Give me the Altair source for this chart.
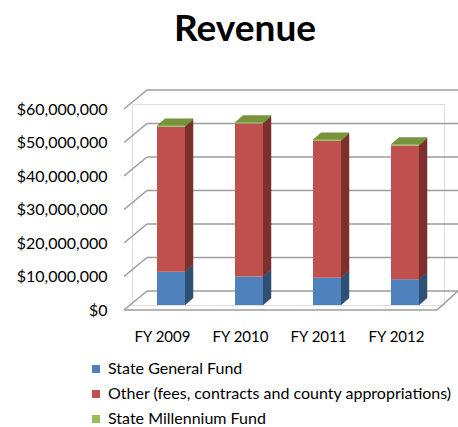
import altair as alt
import pandas as pd

# ---- data ----
years = ["FY 2009", "FY 2010", "FY 2011", "FY 2012"]
series = ["State General Fund",
          "Other (fees, contracts and county appropriations)",
          "State Millennium Fund"]
state_general = [9.9e6, 8.5e6, 8.1e6, 7.7e6]
other = [43.3e6, 45.7e6, 40.9e6, 39.9e6]
millennium = [0.3e6, 0.25e6, 0.3e6, 0.3e6]
tick_values = [0, 10e6, 20e6, 30e6, 40e6, 50e6, 60e6]

# ---- styling ----
front_colors = ["#4F81BD", "#C0504D", "#9BBB59"]
side_colors = ["#2F5075", "#7B302E", "#5E7530"]
top_color = "#77933C"
grid_color = "#9d9d9d"
FONT = "Lato"

W, H = 312, 201
YMAX = 60e6
HW = 14 / 78.0          # half bar width in band units
DX = 8 / 78.0           # 3D depth in x (band units)
DY = 7 / H * YMAX       # 3D depth in y (value units)

# ---- build tables ----
seg_rows, side_rows, top_rows = [], [], []
for i, yr in enumerate(years):
    vals = [state_general[i], other[i], millennium[i]]
    c = i + 0.5
    xl, xr = c - HW, c + HW
    start = 0.0
    for s, v, col, dk in zip(series, vals, front_colors, side_colors):
        end = start + v
        seg_rows.append(dict(year=yr, series=s, x0=xl, x1=xr, start=start, end=end))
        sid = f"{yr}-{s}"
        side_rows.append(dict(sid=sid, x=xr, lo=start, hi=end, dark=dk))
        side_rows.append(dict(sid=sid, x=xr + DX, lo=start + DY, hi=end + DY, dark=dk))
        start = end
    top = start
    for x, lo, hi in [(xl, top, top), (xl + DX, top, top + DY),
                      (xr, top, top + DY), (xr + DX, top + DY, top + DY)]:
        top_rows.append(dict(bar=yr, x=x, lo=lo, hi=hi))

segs = pd.DataFrame(seg_rows)
sides = pd.DataFrame(side_rows)
tops = pd.DataFrame(top_rows)
ticks = pd.DataFrame({"v": tick_values})

xscale = alt.Scale(domain=[0, 4], nice=False, zero=False)
yscale = alt.Scale(domain=[0, YMAX], nice=False)

label_expr = "[" + ",".join(f"'{y}'" for y in years) + "][floor(datum.value)]"

x_axis = alt.Axis(values=[0.5, 1.5, 2.5, 3.5], labelExpr=label_expr,
                  domain=False, ticks=False, grid=False,
                  labelFont=FONT, labelFontSize=15, labelColor="#000",
                  labelPadding=24, labelOffset=-9)
y_axis = alt.Axis(values=tick_values, format="$,.0f",
                  domain=False, ticks=False, grid=False,
                  labelFont=FONT, labelFontSize=16, labelColor="#000",
                  labelPadding=25, labelOffset=5)


def Y(f):
    return alt.Y(f, scale=yscale, title=None, axis=y_axis)


def X(f):
    return alt.X(f, scale=xscale, title=None, axis=x_axis)


# back wall gridlines
back = alt.Chart(ticks).mark_rule(color=grid_color, strokeWidth=1.6, yOffset=-14).encode(
    x=alt.value(15), x2=alt.value(W + 14),
    y=Y("v:Q"),
)
# slanted side-wall lines
slant = alt.Chart(ticks).mark_rule(color=grid_color, strokeWidth=1.6,
                                    yOffset=5, y2Offset=-14).encode(
    x=alt.value(-8), x2=alt.value(15),
    y=Y("v:Q"), y2="v:Q",
)
floor_df = pd.DataFrame({"v": [0]})
floor_front = alt.Chart(floor_df).mark_rule(color=grid_color, strokeWidth=1.6, yOffset=5).encode(
    x=alt.value(-8), x2=alt.value(W - 7),
    y=Y("v:Q"),
)
floor_right = alt.Chart(floor_df).mark_rule(color=grid_color, strokeWidth=1.6,
                                            yOffset=5, y2Offset=-14).encode(
    x=alt.value(W - 7), x2=alt.value(W + 14),
    y=Y("v:Q"), y2="v:Q",
)

side = alt.Chart(sides).mark_area(orient="vertical", strokeWidth=0.5).encode(
    x=X("x:Q"),
    y=Y("lo:Q"), y2="hi:Q",
    detail="sid:N",
    color=alt.Color("dark:N", scale=None),
    stroke=alt.Stroke("dark:N", scale=None),
)

topface = alt.Chart(tops).mark_area(orient="vertical", color=top_color,
                                    stroke=top_color, strokeWidth=0.5).encode(
    x=X("x:Q"),
    y=Y("lo:Q"), y2="hi:Q",
    detail="bar:N",
)

front = alt.Chart(segs).mark_rect().encode(
    x=X("x0:Q"), x2="x1:Q",
    y=Y("start:Q"), y2="end:Q",
    color=alt.Color("series:N",
                    scale=alt.Scale(domain=series, range=front_colors),
                    sort=series,
                    legend=alt.Legend(orient="none", legendX=-44, legendY=257,
                                      title=None, symbolType="square",
                                      symbolSize=64, symbolStrokeWidth=0,
                                      labelFont=FONT, labelFontSize=16,
                                      labelColor="#000", labelLimit=400,
                                      rowPadding=9, labelOffset=4, padding=0)),
)

chart = alt.layer(back, slant, floor_front, floor_right, side, topface, front).properties(
    width=W, height=H,
    title=alt.TitleParams("Revenue", font=FONT, fontSize=37, fontWeight="bold",
                          color="#000", anchor="middle", dx=-43, offset=40),
    autosize=alt.AutoSizeParams(type="none"),
    padding={"left": 132, "top": 104, "right": 14, "bottom": 122},
).configure_view(strokeWidth=0, stroke="transparent").configure(background="white")

chart.save("out.html", embed_options={"renderer": "svg", "actions": False})
